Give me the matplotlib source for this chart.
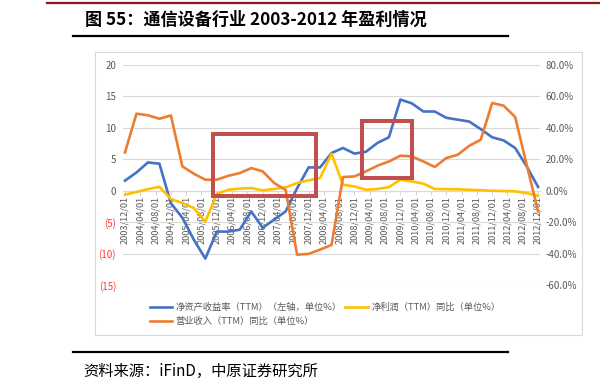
import matplotlib
matplotlib.use("Agg")
import matplotlib.pyplot as plt
from matplotlib.patches import Rectangle
from matplotlib.lines import Line2D

plt.rcParams['font.family'] = ['Noto Sans CJK SC', 'DejaVu Sans']

# ---- data ----
quarters = ['2003/12', '2004/03', '2004/06', '2004/09', '2004/12', '2005/03', '2005/06', '2005/09',
            '2005/12', '2006/03', '2006/06', '2006/09', '2006/12', '2007/03', '2007/06', '2007/09',
            '2007/12', '2008/03', '2008/06', '2008/09', '2008/12', '2009/03', '2009/06', '2009/09',
            '2009/12', '2010/03', '2010/06', '2010/09', '2010/12', '2011/03', '2011/06', '2011/09',
            '2011/12', '2012/03', '2012/06', '2012/09', '2012/12']
roe = [1.6, 2.9, 4.5, 4.3, -2.0, -4.3, -7.8, -10.8, -6.5, -6.5, -6.2, -3.3, -5.9, -4.6, -3.3, 0.4,
       3.7, 3.7, 6.0, 6.8, 5.9, 6.2, 7.6, 8.5, 14.5, 13.9, 12.6, 12.6, 11.6, 11.3, 11.0, 9.8,
       8.5, 8.0, 6.8, 3.9, 0.6]
profit_yoy = [-2.5, -0.8, 1.0, 2.5, -5.3, -7.8, -11.0, -19.8, -1.9, 0.6, 1.3, 1.7, 0.2, 1.1, 2.1, 4.9,
              6.6, 8.1, 23.5, 3.8, 2.7, 0.6, 1.1, 2.3, 7.0, 5.9, 4.5, 1.1, 1.0, 0.9, 0.6, 0.3,
              0.0, -0.2, -0.4, -1.5, -3.2]
revenue_yoy = [24.4, 49.0, 48.0, 45.8, 47.9, 15.5, 10.8, 7.0, 7.0, 9.5, 11.2, 14.4, 12.3, 4.9, 0.5, -40.7,
               -40.2, -37.5, -34.5, 8.7, 9.1, 12.3, 15.9, 18.6, 22.3, 21.8, 18.6, 15.1, 20.8, 22.9, 28.6, 32.4,
               55.8, 54.1, 46.9, 16.7, -13.2]
tick_dates = ['2003/12/01', '2004/04/01', '2004/08/01', '2004/12/01', '2005/04/01', '2005/08/01',
              '2005/12/01', '2006/04/01', '2006/08/01', '2006/12/01', '2007/04/01', '2007/08/01',
              '2007/12/01', '2008/04/01', '2008/08/01', '2008/12/01', '2009/04/01', '2009/08/01',
              '2009/12/01', '2010/04/01', '2010/08/01', '2010/12/01', '2011/04/01', '2011/08/01',
              '2011/12/01', '2012/04/01', '2012/08/01', '2012/12/01']
left_ticks = [20, 15, 10, 5, 0, -5, -10, -15]
right_ticks = [80, 60, 40, 20, 0, -20, -40, -60]
# highlight boxes: (start date, end date, low, high) on left axis
boxes = [('2005/11', '2008/02', -0.8, 9.1), ('2009/02', '2010/03', 2.1, 11.1)]
labels = ['净资产收益率（TTM）（左轴，单位%）', '营业收入（TTM）同比（单位%）', '净利润（TTM）同比（单位%）']


def month_index(s):
    y, m = s.split('/')[:2]
    return (int(y) - 2003) * 12 + int(m) - 12


xq = [month_index(q) for q in quarters]
xt = [month_index(t) for t in tick_dates]

BLUE = '#4472C4'
ORANGE = '#ED7D31'
YELLOW = '#FFC000'
GRAY = '#595959'
GRID = '#D9D9D9'

fig = plt.figure(figsize=(6.0, 3.89), dpi=100)

# header / footer
fig.add_artist(Line2D([47/600, 1.0], [1-2.5/389]*2, color='#8B1A1A', lw=1.6))
fig.text(85/600, 1-20/389, '图 55：通信设备行业 2003-2012 年盈利情况', fontsize=12.3,
         fontweight='bold', va='center', ha='left', color='black')
fig.add_artist(Line2D([73/600, 508/600], [1-36/389]*2, color='black', lw=1.6))
fig.add_artist(Line2D([73/600, 508/600], [1-352/389]*2, color='black', lw=1.6))
fig.text(83/600, 1-371/389, '资料来源：iFinD，中原证券研究所', fontsize=11,
         va='center', ha='left', color='black')
fig.add_artist(Rectangle((95/600, 1-335/389), 487/600, 283/389, transform=fig.transFigure,
                         fill=False, ec=GRID, lw=0.8))

ax = fig.add_axes([123/600, 1-285/389, 417/600, 220/389])
ax2 = ax.twinx()

ax.set_xlim(-0.52, 108.5)
ax.set_ylim(-15, 20)
ax2.set_ylim(-60, 80)

ax.set_yticks(left_ticks)
ax.set_yticklabels([str(v) if v >= 0 else '(%d)' % (-v) for v in left_ticks])
for lbl, v in zip(ax.get_yticklabels(), left_ticks):
    lbl.set_color('#FF3B3B' if v < 0 else GRAY)
ax2.set_yticks(right_ticks)
ax2.set_yticklabels(['%.1f%%' % v for v in right_ticks], color=GRAY)

ax.tick_params(axis='y', length=0, pad=5, labelsize=7)
ax2.tick_params(axis='y', length=0, pad=4, labelsize=7)
ax.grid(axis='y', color=GRID, lw=0.8)
ax.set_axisbelow(True)

for a in (ax, ax2):
    for s in ('top', 'left', 'right'):
        a.spines[s].set_visible(False)
ax2.spines['bottom'].set_visible(False)
ax.spines['bottom'].set_position(('data', 0))
ax.spines['bottom'].set_color(GRID)
ax.spines['bottom'].set_linewidth(0.8)

ax.set_xticks(xt)
ax.set_xticklabels(tick_dates, rotation=90, fontsize=6.6, color=GRAY)
ax.tick_params(axis='x', length=3, color=GRID, pad=1)

l1, = ax.plot(xq, roe, color=BLUE, lw=1.9, solid_joinstyle='round', zorder=3)
l3, = ax2.plot(xq, profit_yoy, color=YELLOW, lw=1.9, solid_joinstyle='round', zorder=3)
l2, = ax2.plot(xq, revenue_yoy, color=ORANGE, lw=1.9, solid_joinstyle='round', zorder=4)

for a0, a1, lo, hi in boxes:
    x0, x1 = month_index(a0), month_index(a1)
    ax2.add_patch(Rectangle((x0, lo * 4), x1 - x0, (hi - lo) * 4, fill=False,
                            ec='#C0504D', lw=2.9, zorder=6))

fig.legend([l1, l2, l3], labels, ncol=2, loc='upper left',
           bbox_to_anchor=(143/600, 1-296/389), frameon=False, fontsize=6.7,
           labelcolor=GRAY, handlelength=2.4, handletextpad=0.4, columnspacing=0.4,
           labelspacing=0.5, borderpad=0.2)

fig.savefig('out.png', dpi=100)
